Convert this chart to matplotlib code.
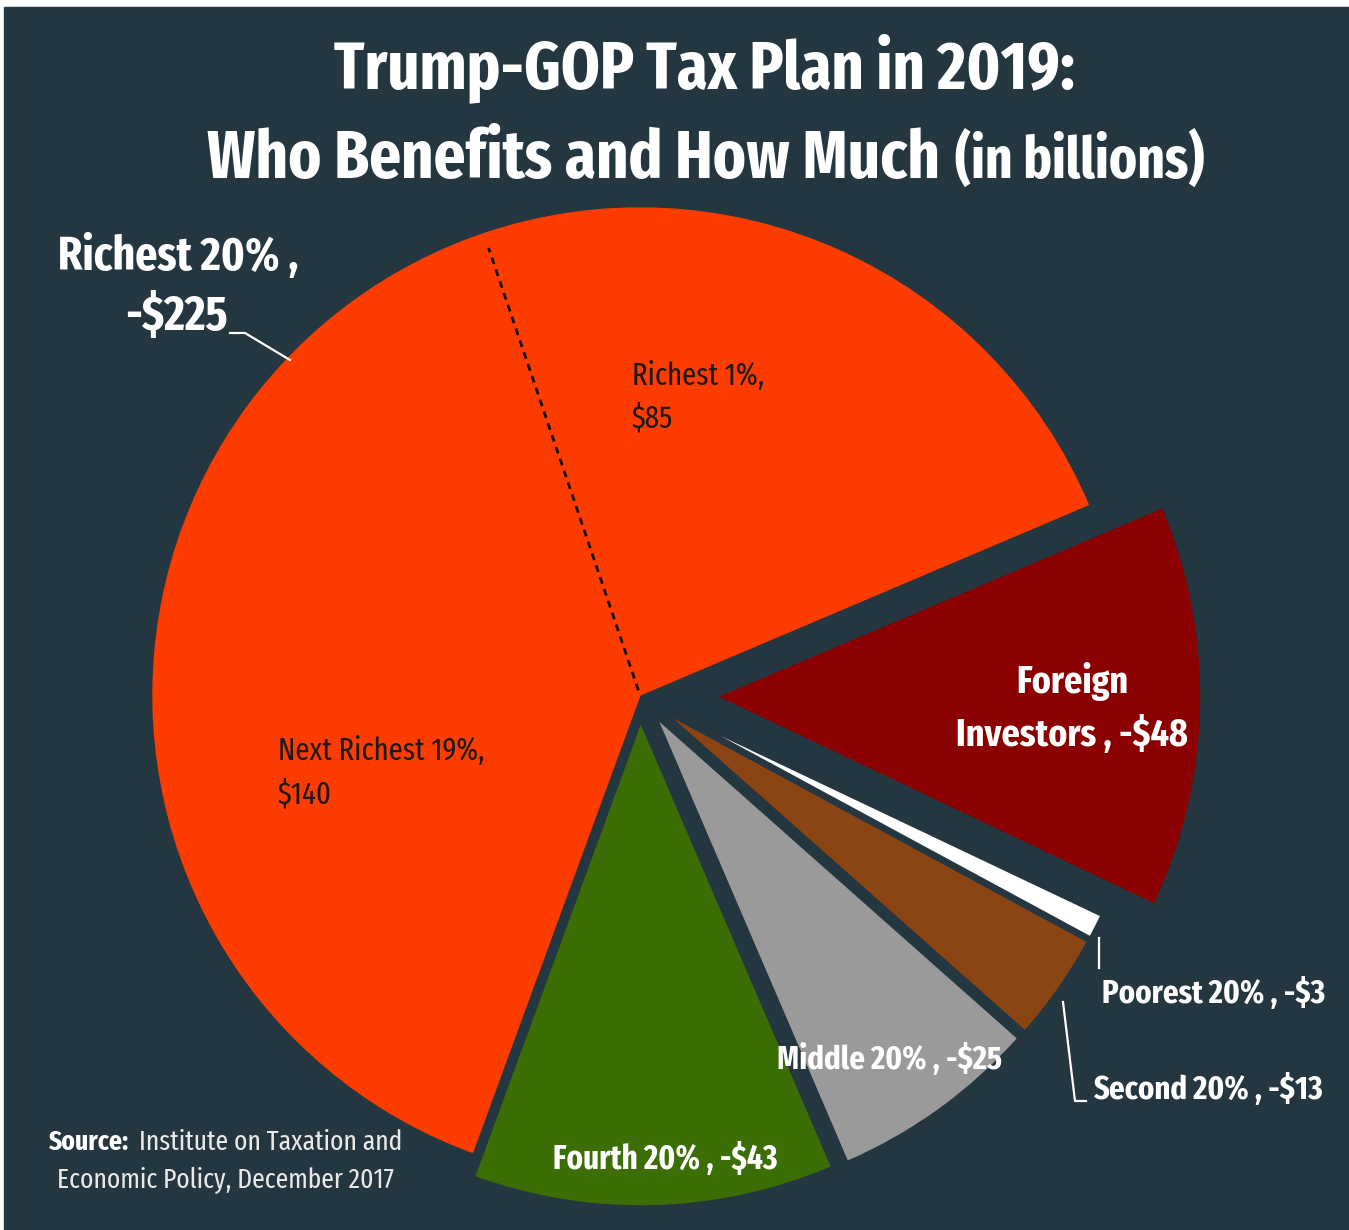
import numpy as np
import matplotlib
matplotlib.use("Agg")
from matplotlib import pyplot as plt
from matplotlib import font_manager
from matplotlib.patches import Rectangle

W, H = 1349, 1230
BG = '#243640'

# values in billions, counterclockwise from the top right edge of the pie
groups = ['Richest 1%', 'Next Richest 19%', 'Fourth 20%', 'Middle 20%',
          'Second 20%', 'Poorest 20%', 'Foreign Investors']
amounts = [85, 140, 43, 25, 13, 3, 48]
colors = ['#ff3c00', '#ff3c00', '#3b6e05', '#9a9a9a', '#8b4513', '#ffffff', '#8b0000']
richest_20 = 225

names = sorted({f.name for f in font_manager.fontManager.ttflist})
narrow = [n for n in ['Fira Sans Extra Condensed', 'Roboto Condensed'] if n in names]
FONT = narrow[0] if narrow else 'DejaVu Sans'

fig = plt.figure(figsize=(W / 100, H / 100), dpi=100, facecolor='white')
ax = fig.add_axes([0, 0, 1, 1])
ax.add_patch(Rectangle((4, 0), W - 4, H - 7, color=BG, zorder=0))

wedges, _ = ax.pie(amounts, colors=colors, startangle=23, counterclock=True,
                   center=(640, H - 695), radius=487,
                   explode=[0, 0, 25, 25, 25, 25, 75],
                   wedgeprops=dict(linewidth=2.5, edgecolor=BG))
for w in wedges[:2]:
    w.set_edgecolor(colors[0])
    w.set_linewidth(1)

ax.set_xlim(0, W)
ax.set_ylim(0, H)
ax.set_aspect('equal')
ax.axis('off')

# dashed split between richest 1% and next 19%
th = np.deg2rad(wedges[0].theta2)
cx, cy = wedges[0].center
ax.plot([cx + 5 * np.cos(th), cx + 472 * np.cos(th)],
        [cy + 5 * np.sin(th), cy + 472 * np.sin(th)],
        ls=(0, (2.5, 2)), color='#111111', lw=2, zorder=3)


def label(x, y, s, size, weight='bold', color='white', ha='left'):
    ax.text(x, H - y, s, fontsize=size, fontweight=weight, color=color,
            ha=ha, va='baseline', family=FONT, zorder=5)


def leader(xs, ys):
    ax.plot(xs, [H - y for y in ys], color='white', lw=1.6, zorder=4)


# title
label(705, 88, 'Trump-GOP Tax Plan in 2019:', 48.7, ha='center')
label(940, 178, 'Who Benefits and How Much', 49, ha='right')
label(955, 178, '(in billions)', 41.5)

label(58, 270, 'Richest 20% ,', 34)
label(125, 330, '-$%d' % richest_20, 35)
leader([230, 245, 290], [333, 333, 360])

label(632, 385, '%s,' % groups[0], 22.5, weight='normal', color='#1a1a1a')
label(632, 427, '$%d' % amounts[0], 22.5, weight='normal', color='#1a1a1a')
label(278, 760, '%s,' % groups[1], 22.5, weight='normal', color='#1a1a1a')
label(278, 803, '$%d' % amounts[1], 22.5, weight='normal', color='#1a1a1a')

label(1072, 693, 'Foreign', 28, ha='center')
label(1072, 746, 'Investors , -$%d' % amounts[6], 28, ha='center')

label(665, 1169, '%s , -$%d' % (groups[2], amounts[2]), 24.2, ha='center')
label(890, 1069, '%s , -$%d' % (groups[3], amounts[3]), 24, ha='center')
label(1102, 1003, '%s , -$%d' % (groups[5], amounts[5]), 24)
leader([1099, 1099], [938, 968])
label(1093, 1099, '%s , -$%d' % (groups[4], amounts[4]), 24)
leader([1063, 1075, 1086], [1002, 1101, 1101])

# source
label(48, 1150, 'Source:', 20)
label(139, 1150, 'Institute on Taxation and', 20, weight='normal', color='#e8e8e8')
label(57, 1188, 'Economic Policy, December 2017', 20, weight='normal', color='#e8e8e8')

fig.savefig('out.png', dpi=100, facecolor=fig.get_facecolor())
